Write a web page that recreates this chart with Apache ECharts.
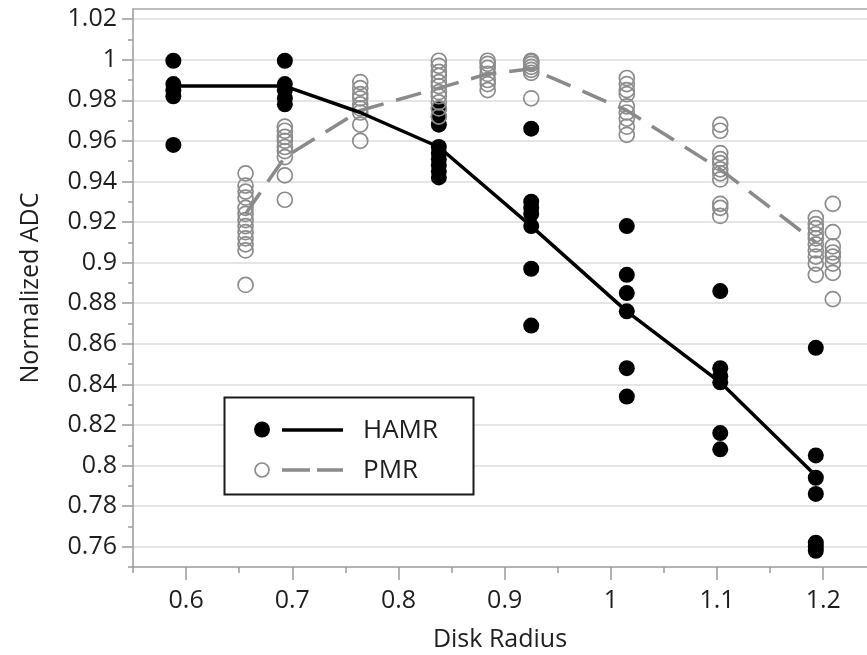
<!DOCTYPE html>
<html>
<head>
<meta charset="utf-8">
<script src="https://cdn.jsdelivr.net/npm/echarts@6/dist/echarts.min.js"></script>
<style>html,body{margin:0;padding:0;background:#fff}#c{width:867px;height:655px}</style>
</head>
<body>
<div id="c"></div>
<script>
// ---- data ----
const hamrRadius = [0.588, 0.693, 0.838, 0.925, 1.015, 1.103, 1.193];
const hamrADC = [
  [0.9995, 0.988, 0.985, 0.982, 0.958],
  [0.9995, 0.988, 0.985, 0.981, 0.978],
  [0.976, 0.972, 0.968, 0.957, 0.954, 0.951, 0.948, 0.945, 0.942],
  [0.966, 0.930, 0.927, 0.924, 0.918, 0.897, 0.869],
  [0.918, 0.894, 0.885, 0.876, 0.848, 0.834],
  [0.886, 0.848, 0.844, 0.841, 0.816, 0.808],
  [0.858, 0.805, 0.794, 0.786, 0.762, 0.760, 0.758]
];
const hamrLineRadius = [0.588, 0.693, 0.764, 0.838, 0.925, 1.015, 1.103, 1.193];
const hamrLineADC = [0.987, 0.987, 0.974, 0.957, 0.918, 0.876, 0.841, 0.795];

const pmrRadius = [0.656, 0.693, 0.764, 0.838, 0.884, 0.925, 1.015, 1.103, 1.193, 1.209];
const pmrADC = [
  [0.944, 0.938, 0.935, 0.932, 0.927, 0.924, 0.921, 0.918, 0.915, 0.912, 0.909, 0.906, 0.889],
  [0.967, 0.965, 0.962, 0.960, 0.957, 0.955, 0.952, 0.943, 0.931],
  [0.989, 0.986, 0.983, 0.981, 0.978, 0.976, 0.974, 0.968, 0.960],
  [0.9995, 0.997, 0.994, 0.992, 0.989, 0.987, 0.984, 0.982, 0.979, 0.976, 0.972],
  [0.9995, 0.998, 0.996, 0.993, 0.990, 0.988, 0.985],
  [0.9995, 0.999, 0.998, 0.9965, 0.995, 0.9935, 0.981],
  [0.991, 0.988, 0.985, 0.983, 0.977, 0.974, 0.971, 0.967, 0.963],
  [0.968, 0.965, 0.954, 0.951, 0.949, 0.946, 0.944, 0.941, 0.929, 0.927, 0.923],
  [0.922, 0.919, 0.917, 0.914, 0.912, 0.909, 0.906, 0.903, 0.8995, 0.894],
  [0.929, 0.915, 0.908, 0.905, 0.903, 0.8995, 0.895, 0.882]
];
const pmrLineRadius = [0.656, 0.693, 0.764, 0.838, 0.884, 0.925, 1.015, 1.103, 1.193];
const pmrLineADC = [0.924, 0.952, 0.975, 0.986, 0.993, 0.9955, 0.975, 0.946, 0.910];

const xMajorTicks = [0.6, 0.7, 0.8, 0.9, 1.0, 1.1, 1.2];
const xMinorTicks = [0.55, 0.65, 0.75, 0.85, 0.95, 1.05, 1.15];
const yMajorTicks = [0.76, 0.78, 0.80, 0.82, 0.84, 0.86, 0.88, 0.90, 0.92, 0.94, 0.96, 0.98, 1.00, 1.02];
const yMinorTicks = [0.75, 0.77, 0.79, 0.81, 0.83, 0.85, 0.87, 0.89, 0.91, 0.93, 0.95, 0.97, 0.99, 1.01];

const seriesNames = ['HAMR', 'PMR'];

// ---- build ----
function points(xs, groups) {
  const out = [];
  xs.forEach((x, i) => groups[i].forEach(v => out.push([x, v])));
  return out;
}
function pairs(xs, ys) { return xs.map((x, i) => [x, ys[i]]); }

const FONT = 'Open Sans';
const TXT = '#1e1e1e';
const AX = '#9a9a9a';
const fmt = v => String(+(+v).toFixed(2));

const chart = echarts.init(document.getElementById('c'), null, { renderer: 'canvas' });
chart.setOption({
  animation: false,
  backgroundColor: '#fff',
  textStyle: { fontFamily: FONT },
  grid: { left: 133, right: 0, top: 9, bottom: 88, containLabel: false, outerBoundsMode: 'none' },
  xAxis: [
    {
      type: 'value', min: 0.55, max: 1.2412, position: 'bottom',
      name: 'Disk Radius', nameLocation: 'middle', nameGap: 60,
      nameTextStyle: { fontSize: 25, color: TXT, fontFamily: FONT },
      axisLine: { onZero: false, lineStyle: { color: AX, width: 1.5 } },
      axisTick: { customValues: xMajorTicks, length: 13, lineStyle: { color: AX, width: 1.5 } },
      axisLabel: { customValues: xMajorTicks, formatter: fmt, fontSize: 25, margin: 21, color: TXT, fontFamily: FONT },
      splitLine: { show: false }
    },
    {
      type: 'value', min: 0.55, max: 1.2412, position: 'bottom',
      axisLine: { show: false, onZero: false },
      axisTick: { customValues: xMinorTicks, length: 6, lineStyle: { color: AX, width: 1.5 } },
      axisLabel: { show: false },
      splitLine: { show: false }
    },
    {
      type: 'value', min: 0.55, max: 1.2412, position: 'top',
      axisLine: { show: true, onZero: false, lineStyle: { color: '#a8a8a8', width: 1.5 } },
      axisTick: { show: false }, axisLabel: { show: false }, splitLine: { show: false }
    }
  ],
  yAxis: [
    {
      type: 'value', min: 0.75, max: 1.025,
      name: 'Normalized ADC', nameLocation: 'middle', nameGap: 90,
      nameTextStyle: { fontSize: 25, color: TXT, fontFamily: FONT },
      axisLine: { show: true, onZero: false, lineStyle: { color: AX, width: 1.5 } },
      axisTick: { show: true, customValues: yMajorTicks, length: 11, lineStyle: { color: AX, width: 1.5 } },
      axisLabel: { customValues: yMajorTicks, formatter: fmt, fontSize: 25, margin: 16, color: TXT, fontFamily: FONT },
      splitLine: { show: true, lineStyle: { color: '#dddddd', width: 1.5 } }
    },
    {
      type: 'value', min: 0.75, max: 1.025, position: 'left',
      axisLine: { show: false, onZero: false },
      axisTick: { show: true, customValues: yMinorTicks, length: 5, lineStyle: { color: AX, width: 1.5 } },
      axisLabel: { show: false },
      splitLine: { show: false }
    }
  ],
  series: [
    {
      name: seriesNames[0], type: 'scatter', xAxisIndex: 0, yAxisIndex: 0,
      data: points(hamrRadius, hamrADC), symbol: 'circle', symbolSize: 16,
      itemStyle: { color: '#000', opacity: 1 }, silent: true, z: 3
    },
    {
      name: seriesNames[1], type: 'scatter', xAxisIndex: 0, yAxisIndex: 0,
      data: points(pmrRadius, pmrADC), symbol: 'circle', symbolSize: 15,
      itemStyle: { color: 'rgba(255,255,255,0)', borderColor: '#8c8c8c', borderWidth: 1.7, opacity: 1 },
      silent: true, z: 4
    },
    {
      name: seriesNames[1] + ' line', type: 'line', xAxisIndex: 0, yAxisIndex: 0,
      data: pairs(pmrLineRadius, pmrLineADC), symbol: 'none',
      lineStyle: { color: '#8a8a8a', width: 3.5, type: [26, 13] }, silent: true, z: 5
    },
    {
      name: seriesNames[0] + ' line', type: 'line', xAxisIndex: 0, yAxisIndex: 0,
      data: pairs(hamrLineRadius, hamrLineADC), symbol: 'none',
      lineStyle: { color: '#000', width: 3.5 }, silent: true, z: 5
    }
  ],
  graphic: [
    { type: 'rect', shape: { x: 224.5, y: 397.5, width: 249, height: 97 },
      style: { fill: '#fff', stroke: '#1a1a1a', lineWidth: 2 }, z: 100 },
    { type: 'circle', shape: { cx: 262, cy: 429.5, r: 8 }, style: { fill: '#000' }, z: 101 },
    { type: 'line', shape: { x1: 282, y1: 430, x2: 343, y2: 430 }, style: { stroke: '#000', lineWidth: 3.5 }, z: 101 },
    { type: 'text', x: 363, y: 431, style: { text: seriesNames[0], font: '26px "Open Sans"', fill: TXT, textVerticalAlign: 'middle', verticalAlign: 'middle' }, z: 101 },
    { type: 'circle', shape: { cx: 262, cy: 470, r: 7 }, style: { fill: 'none', stroke: '#8c8c8c', lineWidth: 1.7 }, z: 101 },
    { type: 'line', shape: { x1: 282, y1: 470, x2: 343, y2: 470 }, style: { stroke: '#8a8a8a', lineWidth: 3.5, lineDash: [28, 7] }, z: 101 },
    { type: 'text', x: 363, y: 471, style: { text: seriesNames[1], font: '26px "Open Sans"', fill: TXT, textVerticalAlign: 'middle', verticalAlign: 'middle' }, z: 101 }
  ]
});
</script>
</body>
</html>
